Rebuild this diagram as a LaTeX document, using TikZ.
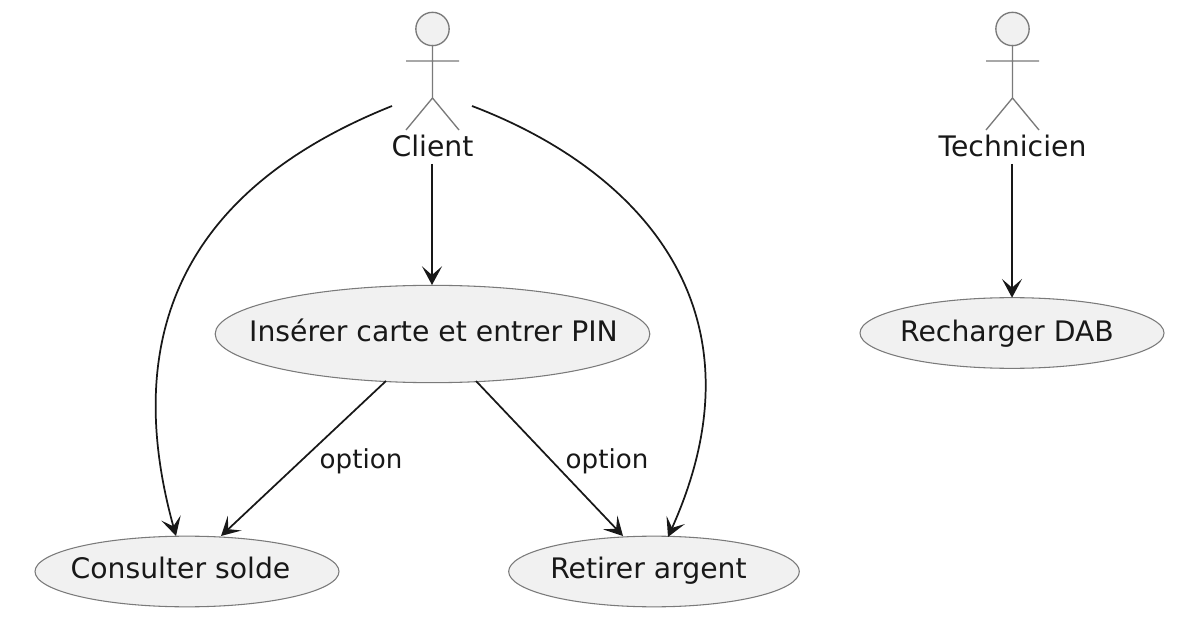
\documentclass[tikz,border=0pt]{standalone}
\usepackage{fontspec}
\setmainfont{DejaVu Sans}
\usetikzlibrary{shapes.geometric,arrows.meta}
\definecolor{fillc}{HTML}{F1F1F1}
\definecolor{linec}{HTML}{181818}
\definecolor{edgec}{HTML}{7A7A7A}
\tikzset{x=0.75pt,y=-0.75pt,
 usecase/.style={ellipse,draw=edgec,fill=fillc,line width=0.8pt,inner sep=0pt,outer sep=0pt},
 uclabel/.style={inner sep=0pt,anchor=base,text=linec,font=\fontsize{21.2}{24}\selectfont},
 actorline/.style={draw=edgec,line width=1pt},
 actorlabel/.style={inner sep=0pt,anchor=base,text=linec,font=\fontsize{21.2}{24}\selectfont},
 edgelabel/.style={inner sep=0pt,anchor=base,text=linec,font=\fontsize{19.6}{22}\selectfont},
 conn/.style={draw=linec,line width=1.3pt,-{Stealth[length=14pt,width=15pt,inset=6.5pt]}}}
\begin{document}
\begin{tikzpicture}
\useasboundingbox (0,0) rectangle (1196,634);
\fill[white] (0,0) rectangle (1196,634);
% actors
\node[circle,draw=edgec,fill=fillc,line width=1pt,minimum size=25pt,inner sep=0pt] (chead) at (432.5,29) {};
\draw[actorline] (432.5,45)--(432.5,98) (406,61)--(459,61) (432.5,98)--(406,130) (432.5,98)--(459,130);
\node[actorlabel] (client) at (432.5,157) {Client};
\node[circle,draw=edgec,fill=fillc,line width=1pt,minimum size=25pt,inner sep=0pt] (thead) at (1012.5,29) {};
\draw[actorline] (1012.5,45)--(1012.5,98) (986,61)--(1039,61) (1012.5,98)--(986,130) (1012.5,98)--(1039,130);
\node[actorlabel] (tech) at (1012.5,157) {Technicien};
% use cases
\node[usecase,minimum width=326pt,minimum height=73pt] (pin) at (432.5,334) {};
\node[usecase,minimum width=228pt,minimum height=53pt] (solde) at (187,571.5) {};
\node[usecase,minimum width=218pt,minimum height=53pt] (argent) at (654,571.5) {};
\node[usecase,minimum width=228pt,minimum height=53pt] (dab) at (1012,333) {};
\node[uclabel] (pintext) at (433.5,342) {Insérer carte et entrer PIN};
\node[uclabel] (soldetext) at (180.5,578.5) {Consulter solde};
\node[uclabel] (argenttext) at (648.5,578.5) {Retirer argent};
\node[uclabel] (dabtext) at (1007,342) {Recharger DAB};
% anchors
\coordinate (c1) at (392,106);
\coordinate (c2) at (472,106);
\coordinate (c3) at (432,164);
\coordinate (t3) at (1012,164);
\coordinate (pt) at (432,285);
\draw[conn] (c3) -- (pt);
\draw[conn] (t3) -- (dab.north);
\draw[conn] (c1) .. controls (232,170) and (108,290) .. (176,536);
\draw[conn] (c2) .. controls (640,170) and (770,310) .. (668,537);
\draw[conn] (386,381) -- (221,536);
\draw[conn] (476,381) -- (623,536);
\node[edgelabel] (l1) at (361,469) {option};
\node[edgelabel] (l2) at (607,469) {option};
\end{tikzpicture}
\end{document}
